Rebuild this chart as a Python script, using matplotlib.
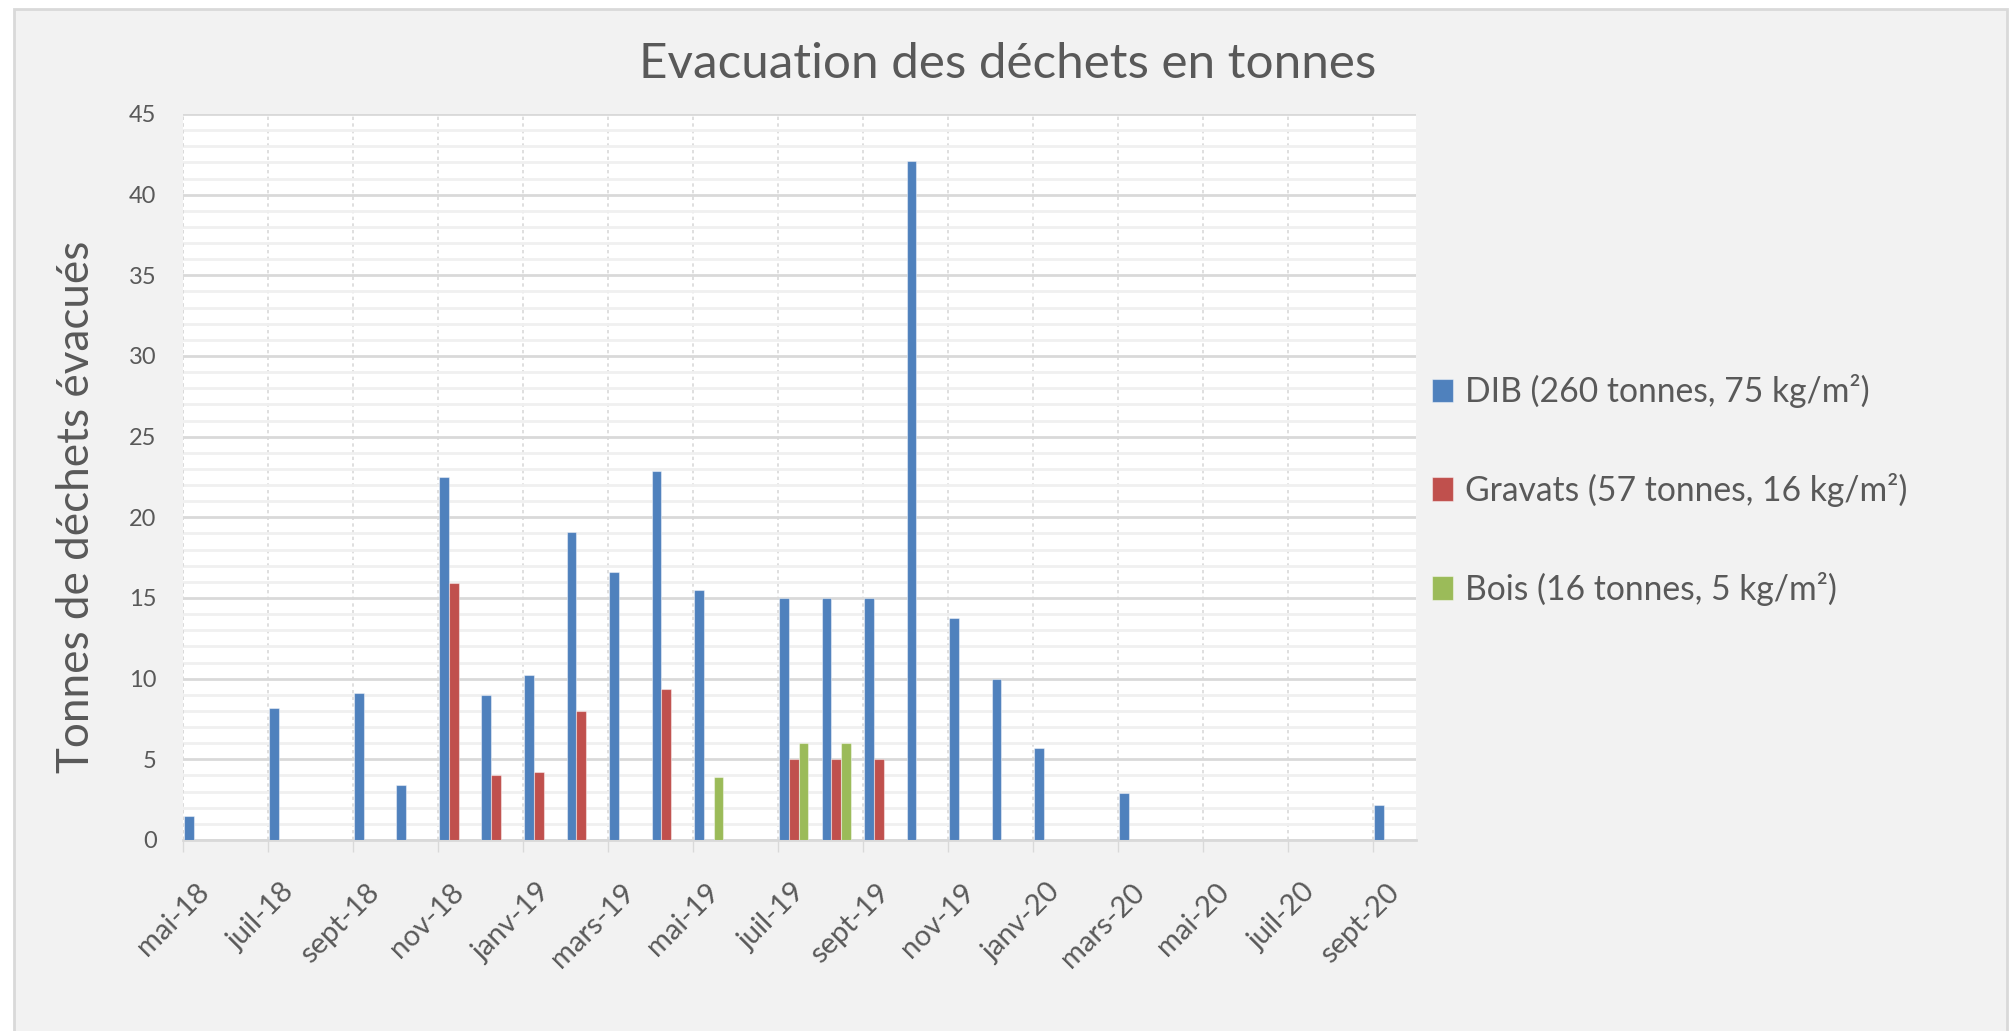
import numpy as np
import matplotlib
matplotlib.use("Agg")
import matplotlib.pyplot as plt
from matplotlib.patches import Rectangle
from matplotlib.ticker import MultipleLocator
from matplotlib.transforms import ScaledTranslation, blended_transform_factory

plt.rcParams['font.family'] = ['Lato', 'DejaVu Sans']

# mois de mai-18 a sept-20
mois = ['mai-18', 'juin-18', 'juil-18', 'août-18', 'sept-18', 'oct-18', 'nov-18', 'déc-18',
        'janv-19', 'févr-19', 'mars-19', 'avr-19', 'mai-19', 'juin-19', 'juil-19', 'août-19',
        'sept-19', 'oct-19', 'nov-19', 'déc-19', 'janv-20', 'févr-20', 'mars-20', 'avr-20',
        'mai-20', 'juin-20', 'juil-20', 'août-20', 'sept-20']
nan = np.nan
dib = [1.5, nan, 8.2, nan, 9.1, 3.4, 22.5, 9.0, 10.2, 19.1, 16.6, 22.9, 15.5, nan, 15.0, 15.0,
       15.0, 42.1, 13.75, 10.0, 5.7, nan, 2.9, nan, nan, nan, nan, nan, 2.2]
gravats = [nan, nan, nan, nan, nan, nan, 15.9, 4.05, 4.2, 8.0, nan, 9.35, nan, nan, 5.0, 5.0,
           5.0, nan, nan, nan, nan, nan, nan, nan, nan, nan, nan, nan, nan]
bois = [nan, nan, nan, nan, nan, nan, nan, nan, nan, nan, nan, nan, 3.9, nan, 6.0, 6.0,
        nan, nan, nan, nan, nan, nan, nan, nan, nan, nan, nan, nan, nan]
series = ['DIB (260 tonnes, 75 kg/m²)', 'Gravats (57 tonnes, 16 kg/m²)', 'Bois (16 tonnes, 5 kg/m²)']
couleurs = ['#4f81bd', '#c0504d', '#9bbb59']

txt = '#595959'
fig = plt.figure(figsize=(20.11, 10.31), dpi=100, facecolor='white')
fig.patches.append(Rectangle((14 / 2011, -0.01), (2007 - 14) / 2011, 1.01 - 9 / 1031,
                             transform=fig.transFigure, facecolor='#f2f2f2',
                             edgecolor='#d9d9d9', lw=2, zorder=-10))

ax = fig.add_axes([183 / 2011, 191 / 1031, (1416 - 183) / 2011, (917 - 191) / 1031])
ax.set_facecolor('white')

x = np.arange(len(mois))
w = 0.23
bars = []
for k, (vals, c, lab) in enumerate(zip([dib, gravats, bois], couleurs, series)):
    b = ax.bar(x + 0.02 + k * w, vals, width=w, align='edge', color=c,
               edgecolor=(1, 1, 1, 0.45), linewidth=0.8, label=lab, zorder=3)
    bars.append(b)

ax.set_xlim(0, len(mois))
ax.set_ylim(0, 45)
ax.yaxis.set_major_locator(MultipleLocator(5))
ax.yaxis.set_minor_locator(MultipleLocator(1))
ax.set_xticks(x[::2])
ax.set_xticklabels([])
ax.tick_params(axis='x', length=8.6, width=1, color='#d9d9d9')
ax.tick_params(axis='y', which='both', length=0, labelsize=17, labelcolor=txt, pad=19)

# etiquettes des mois, tournees a 45 degres
trans = blended_transform_factory(ax.transData, ax.transAxes) + \
    ScaledTranslation(0.22, -0.48, fig.dpi_scale_trans)
for xi in x[::2]:
    ax.text(xi, 0, mois[xi], transform=trans, rotation=45, ha='right', va='center',
            rotation_mode='anchor', fontsize=21, color=txt, clip_on=False)

ax.grid(axis='y', which='major', color='#d9d9d9', lw=2, zorder=0)
ax.grid(axis='y', which='minor', color='#f0f0f0', lw=2, zorder=0)
ax.grid(axis='x', which='major', color='#d9d9d9', lw=1.2, ls=(0, (2, 2)), zorder=0)
ax.set_axisbelow(True)
for s in ['top', 'right', 'left']:
    ax.spines[s].set_visible(False)
ax.spines['bottom'].set_color('#d9d9d9')
ax.spines['bottom'].set_linewidth(2)
ax.axvline(0, color='#d9d9d9', lw=1.2, ls=(0, (2, 2)), zorder=1)

fig.text(0.501, 0.938, 'Evacuation des déchets en tonnes', ha='center', va='center',
         fontsize=35.6, color=txt)
fig.text(77 / 2011, 1 - 507 / 1031, 'Tonnes de déchets évacués', rotation=90,
         ha='center', va='center', fontsize=31.7, color=txt)

fig.legend(handles=bars, labels=series, loc='center left',
           bbox_to_anchor=(1432 / 2011, 1 - 490 / 1031), frameon=False,
           fontsize=24.2, labelcolor=txt, handlelength=0.62, handleheight=0.7,
           handletextpad=0.35, labelspacing=1.93, borderpad=0, borderaxespad=0)

fig.savefig('out.png', dpi=100, facecolor=fig.get_facecolor())
